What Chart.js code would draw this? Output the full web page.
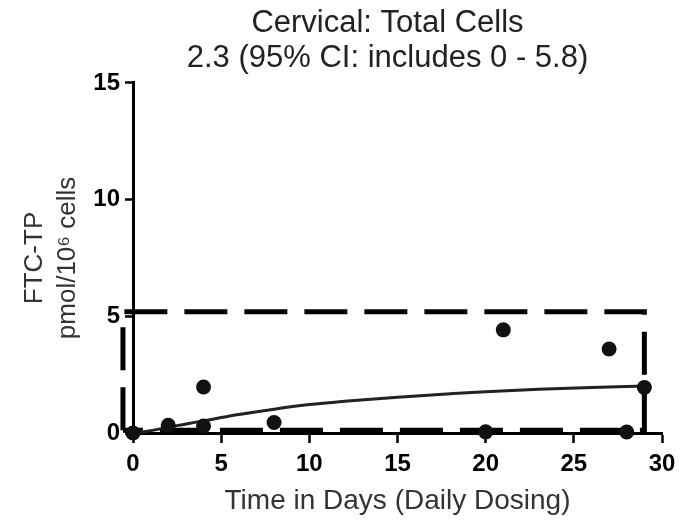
<!DOCTYPE html>
<html>
<head>
<meta charset="utf-8">
<script src="https://cdn.jsdelivr.net/npm/chart.js@4.4.1/dist/chart.umd.min.js"></script>
<style>
    html, body { margin: 0; padding: 0; background: #fff; }
    #wrap { width: 690px; height: 522px; }
</style>
</head>
<body>
<div id="wrap"><canvas id="chart"></canvas></div>
<script>
// measured samples (day, FTC-TP pmol/10^6 cells)
const sampleDays = [0, 2, 4, 4, 8, 20, 21, 27, 28, 29];
const sampleVals = [0, 0.33, 0.3, 1.97, 0.45, 0.05, 4.42, 3.6, 0.04, 1.95];

// fitted curve
const fitDays = [0, 1, 2, 4, 5, 6, 8, 10, 12, 15, 18, 20, 23, 26, 29];
const fitVals = [0, 0.1, 0.25, 0.52, 0.66, 0.79, 1.02, 1.22, 1.36, 1.53, 1.68, 1.77, 1.87, 1.95, 2.01];

// dashed box bounds (days / value)
const boxDays = [-0.57, 29];
const boxVals = [0.12, 5.2];

const xTicks = [0, 5, 10, 15, 20, 25, 30];
const yTicks = [0, 5, 10, 15];

const titleLines = ["Cervical: Total Cells", "2.3 (95% CI: includes 0 - 5.8)"];
const xTitle = "Time in Days (Daily Dosing)";
const yTitle = ["FTC-TP", "pmol/10\u2076 cells"];

const FONT = "'Liberation Sans', Arial, Helvetica, sans-serif";

function toPoints(xs, ys){
    let pts = [];
    for(let i = 0; i < xs.length; i++){
        pts.push({x: xs[i], y: ys[i]});
    }
    return pts;
}

const boxPts = [
    {x: boxDays[0], y: boxVals[0]},
    {x: boxDays[0], y: boxVals[1]},
    {x: boxDays[1], y: boxVals[1]},
    {x: boxDays[1], y: boxVals[0]},
    {x: boxDays[0], y: boxVals[0]}
];

// title sits a bit left of the plot centre in the original
const titleShift = {
    id: "titleShift",
    afterLayout: function(chart){
        if(chart.titleBlock) chart.titleBlock.left -= 20;
    }
};

new Chart(document.getElementById("chart").getContext("2d"), {
    type: "scatter",
    plugins: [titleShift],
    data: {
        datasets: [
            {
                label: "samples",
                data: toPoints(sampleDays, sampleVals),
                pointRadius: 7.5,
                pointHoverRadius: 7.5,
                backgroundColor: "#111",
                borderColor: "#111",
                borderWidth: 0,
                clip: false,
                order: 0
            },
            {
                label: "fit",
                type: "line",
                data: toPoints(fitDays, fitVals),
                borderColor: "#222",
                borderWidth: 3,
                pointRadius: 0,
                cubicInterpolationMode: "monotone",
                fill: false,
                clip: false,
                order: 1
            },
            {
                label: "box",
                type: "line",
                data: boxPts,
                borderColor: "#000",
                borderWidth: 5,
                borderDash: [43, 17],
                borderCapStyle: "butt",
                pointRadius: 0,
                tension: 0,
                fill: false,
                clip: false,
                order: 2
            }
        ]
    },
    options: {
        responsive: true,
        maintainAspectRatio: false,
        animation: false,
        layout: { padding: { top: 0, right: 28, left: 0, bottom: 0 } },
        plugins: {
            legend: { display: false },
            tooltip: { enabled: false },
            title: {
                display: true,
                text: titleLines,
                fullSize: false,
                color: "#222",
                font: { family: FONT, size: 31, weight: "normal", lineHeight: 1.16 },
                padding: { top: 5, bottom: 6 }
            }
        },
        scales: {
            x: {
                type: "linear",
                min: 0,
                max: 30,
                afterBuildTicks: function(scale){
                    scale.ticks = xTicks.map(v => ({value: v}));
                },
                afterFit: function(scale){
                    scale.height = 89;
                    scale.paddingLeft = 0;
                    scale.paddingRight = 0;
                },
                grid: { drawOnChartArea: false, drawTicks: true, tickLength: 10, tickWidth: 2.5, tickColor: "#000" },
                border: { display: true, color: "#000", width: 3 },
                ticks: {
                    color: "#000",
                    padding: 7,
                    maxRotation: 0,
                    font: { family: FONT, size: 24, weight: "bold" }
                },
                title: {
                    display: true,
                    text: xTitle,
                    color: "#333",
                    font: { family: FONT, size: 28, weight: "normal", lineHeight: 1.2 },
                    padding: { top: 0, bottom: 4 }
                }
            },
            y: {
                type: "linear",
                min: 0,
                max: 15,
                afterBuildTicks: function(scale){
                    scale.ticks = yTicks.map(v => ({value: v}));
                },
                afterFit: function(scale){
                    scale.width = 133;
                    scale.paddingTop = 0;
                    scale.paddingBottom = 0;
                },
                grid: { drawOnChartArea: false, drawTicks: true, tickLength: 8, tickWidth: 2.5, tickColor: "#000" },
                border: { display: true, color: "#000", width: 3 },
                ticks: {
                    color: "#000",
                    padding: 5,
                    font: { family: FONT, size: 24, weight: "bold" }
                },
                title: {
                    display: true,
                    text: yTitle,
                    color: "#333",
                    font: { family: FONT, size: 26, weight: "normal", lineHeight: 1.27 },
                    padding: { top: 18, bottom: 0 }
                }
            }
        }
    }
});
</script>
</body>
</html>
